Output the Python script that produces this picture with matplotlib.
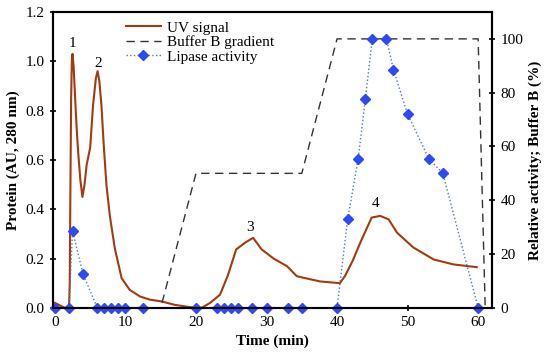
import numpy as np
import matplotlib.pyplot as plt

plt.rcParams['font.family'] = ['Liberation Serif', 'DejaVu Serif']
plt.rcParams['font.size'] = 11

# UV signal (AU, 280 nm)
uv_t = [0, 1.4, 2.0, 2.1, 2.2, 2.3, 2.4, 2.5, 2.65, 2.85, 3.1, 3.3, 3.6, 3.9, 4.2, 4.5,
        5.0, 5.4, 5.8, 6.05, 6.3, 6.6, 6.9, 7.3, 7.8, 8.5, 9.46, 10.6, 12.06, 13.5,
        15.1, 17.0, 19.1, 20.8, 22.0, 23.4, 24.5, 25.7, 27.0, 28.1, 29.3, 31.0,
        32.9, 34.3, 37.6, 40.4, 41.1, 42.2, 43.3, 44.9, 46.1, 47.3, 48.5, 50.8,
        53.7, 56.5, 59.8]
uv_y = [0.02, 0.0, 0.0, 0.1, 0.5, 0.85, 1.0, 1.03, 0.98, 0.86, 0.72, 0.63, 0.52, 0.45,
        0.5, 0.58, 0.65, 0.82, 0.93, 0.96, 0.92, 0.82, 0.67, 0.5, 0.37, 0.24, 0.12,
        0.073, 0.046, 0.033, 0.026, 0.012, 0.003, 0.0, 0.02, 0.053, 0.13, 0.237,
        0.265, 0.284, 0.237, 0.2, 0.169, 0.128, 0.107, 0.10, 0.128, 0.19, 0.265,
        0.366, 0.373, 0.359, 0.305, 0.245, 0.196, 0.176, 0.165]

# Buffer B gradient (%)
buf_t = [0, 15, 20, 35, 40, 60, 61]
buf_y = [0, 0, 50, 50, 100, 100, 0]

# Lipase activity (%)
lip_t = [0, 2, 2.5, 4, 6, 7, 8, 9, 10, 12.5, 20, 23, 24, 25, 26, 28, 30, 33, 35, 40,
         41.5, 43, 44, 45, 47, 48, 50, 53, 55, 60]
lip_y = [0, 0, 28.5, 12.5, 0, 0, 0, 0, 0, 0, 0, 0, 0, 0, 0, 0, 0, 0, 0, 0,
         33, 55.5, 77.5, 100, 100, 88.5, 72, 55.5, 50, 0]

peak_labels = ['1', '2', '3', '4']
peak_pos = [(2.5, 1.045), (6.1, 0.965), (27.6, 0.30), (45.5, 0.395)]

fig = plt.figure(figsize=(5.5, 3.63), dpi=100)
ax = fig.add_axes([0.096, 0.152, 0.799, 0.815])
ax2 = ax.twinx()

l1, = ax.plot(uv_t, uv_y, color='#A33A12', lw=1.5, label='UV signal')
l2, = ax2.plot(buf_t, buf_y, color='#333333', lw=1.0, ls=(0, (6, 4)), label='Buffer B gradient')
l3, = ax2.plot(lip_t, lip_y, color='#5577BB', lw=1.0, ls=':', marker='D', ms=5,
               mfc='#2D4BF5', mec='#2D4BF5', clip_on=False, label='Lipase activity')

for lab, (px, py) in zip(peak_labels, peak_pos):
    ax.text(px, py, lab, ha='center', va='bottom', fontsize=11)

ax.set_xlim(-0.3, 62)
ax.set_ylim(0, 1.2)
ax2.set_ylim(0, 110)
ax.set_xticks(np.arange(0, 61, 10))
ax.set_yticks(np.arange(0, 1.21, 0.2))
ax.set_yticklabels(['%.1f' % v for v in np.arange(0, 1.21, 0.2)])
ax2.set_yticks(np.arange(0, 101, 20))

ax.set_xlabel('Time (min)', fontweight='bold')
ax.set_ylabel('Protein (AU, 280 nm)', fontweight='bold')
ax2.set_ylabel('Relative activity; Buffer B (%)', fontweight='bold')

for a in (ax, ax2):
    for s in a.spines.values():
        s.set_linewidth(1.5)
ax.tick_params(axis='both', direction='inout', length=5, width=1.2)
ax2.tick_params(axis='y', direction='inout', length=5, width=1.2)

ax.legend(handles=[l1, l2, l3], loc='upper left', bbox_to_anchor=(0.145, 1.0),
          frameon=False, handlelength=2.3, handletextpad=0.4, borderaxespad=0.2,
          labelspacing=0.05, fontsize=11)

fig.savefig('out.png', dpi=100)
